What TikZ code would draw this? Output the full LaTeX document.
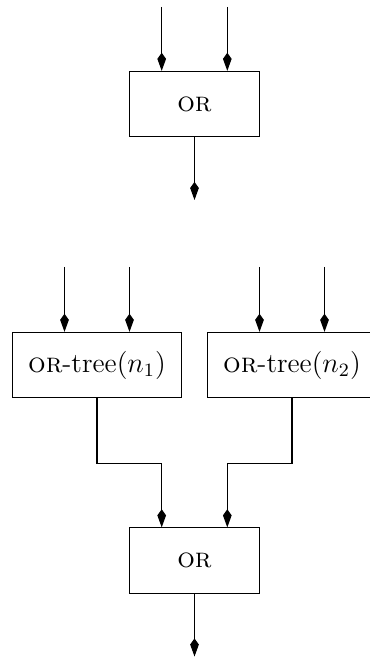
\documentclass[tikz,border=0pt]{standalone}
\usepackage{fontspec}
\usetikzlibrary{arrows.meta}
\begin{document}
\begin{tikzpicture}[x=0.4255pt,y=-0.4255pt,
  font=\fontsize{11.8}{14}\selectfont,
  gate/.style={draw,minimum height=27.8pt,inner sep=0pt},
  orgate/.style={gate,minimum width=55.4pt},
  treebox/.style={gate,minimum width=71.9pt},
  arr/.style={-{Kite[length=7.7pt,width=3.7pt,inset=2.6pt]}},
  wire/.style={line width=0.45pt}]
\useasboundingbox (0,0) rectangle (369,657);

% single OR gate
\node[orgate] (ortop) at (194.5,104) {\textsc{or}};
\coordinate (ta) at (161.7,7);
\coordinate (tb) at (227.3,7);
\coordinate (tout) at (194.5,200);
\draw[wire,arr] (ta) -- (ta |- ortop.north);
\draw[wire,arr] (tb) -- (tb |- ortop.north);
\draw[wire,arr] (ortop.south) -- (tout);

% recursive OR tree
\node[treebox] (tree1) at (97,365) {\textsc{or}-tree$(n_1)$};
\node[treebox] (tree2) at (292,365) {\textsc{or}-tree$(n_2)$};
\node[orgate] (orbot) at (194.5,560.5) {\textsc{or}};

\coordinate (ia) at (64.5,267);
\coordinate (ib) at (129.5,267);
\coordinate (ic) at (259.5,267);
\coordinate (id) at (324.5,267);
\draw[wire,arr] (ia) -- (ia |- tree1.north);
\draw[wire,arr] (ib) -- (ib |- tree1.north);
\draw[wire,arr] (ic) -- (ic |- tree2.north);
\draw[wire,arr] (id) -- (id |- tree2.north);

\coordinate (ja) at (161.7,463.3);
\coordinate (jb) at (227.3,463.3);
\draw[wire,arr] (tree1.south) |- (ja) -- (ja |- orbot.north);
\draw[wire,arr] (tree2.south) |- (jb) -- (jb |- orbot.north);

\coordinate (bout) at (194.5,656.5);
\draw[wire,arr] (orbot.south) -- (bout);
\end{tikzpicture}
\end{document}
